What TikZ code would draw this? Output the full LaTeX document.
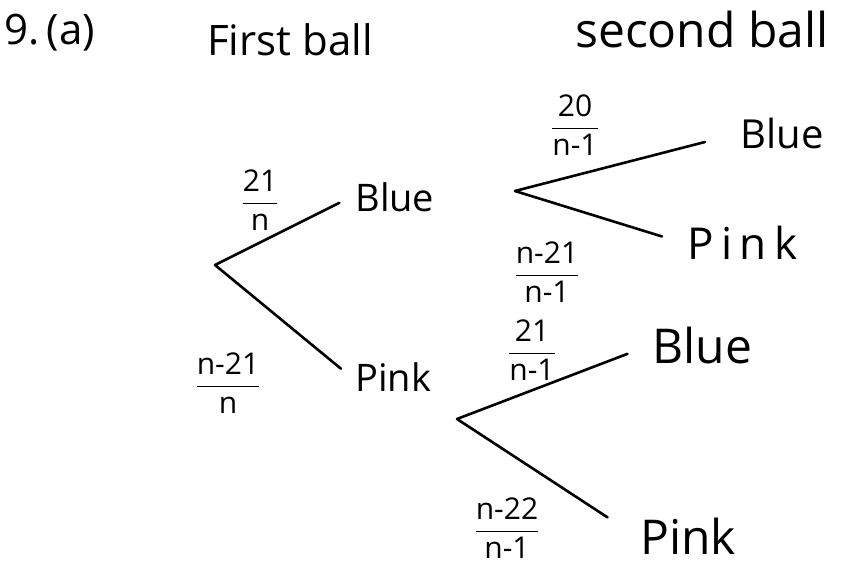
\documentclass[tikz,border=0pt]{standalone}
\usepackage{amsmath}
\usepackage{fontspec}
\setmainfont{Open Sans}
\newcommand{\prob}[2]{$\dfrac{\mbox{#1}}{\mbox{#2}}$}
\begin{document}
\begin{tikzpicture}[x=0.5pt,y=-0.5pt,
        branch/.style={line width=1.3pt,line cap=round},
        head/.style={font=\fontsize{21}{24}\selectfont},
        lbl/.style={anchor=west,inner sep=2pt,font=\fontsize{19}{22}\selectfont},
        biglbl/.style={lbl,font=\fontsize{24}{27}\selectfont},
        frac/.style={inner sep=0pt,font=\fontsize{15}{17}\selectfont}]
        \useasboundingbox (0,0) rectangle (846,565);
        % lecter
        \node[head] (qno) at (50,33) {9.\,(a)};
        \node[head] (first) at (290,40) {First ball};
        \node[head,font=\fontsize{24}{27}\selectfont] (second) at (702,30) {second ball};
        
        \coordinate (r1) at (215,265);
        \coordinate (r2) at (515,191);
        \coordinate (r3) at (457,419);
        
        \node[lbl] (b1) at (351,197) {Blue};
        \node[lbl] (p1) at (351,377) {Pink};
        \node[lbl,font=\fontsize{20}{23}\selectfont] (b2) at (736,134) {Blue};
        \node[lbl,font=\fontsize{22}{25}\selectfont] (p2) at (683,243) {P\,i\,n\,k};
        \node[biglbl] (b3) at (648,346) {Blue};
        \node[biglbl] (p3) at (636,536) {Pink};
        
        \node[frac] (f1) at (260,200) {\prob{21}{n}};
        \node[frac] (f2) at (228,383) {\prob{n-21}{n}};
        \node[frac] (f3) at (575,125) {\prob{20}{n-1}};
        \node[frac] (f4) at (547,272) {\prob{n-21}{n-1}};
        \node[frac] (f5) at (532,350) {\prob{21}{n-1}};
        \node[frac] (f6) at (507,528) {\prob{n-22}{n-1}};
        
        % line
        \draw[branch,shorten >=6.5pt] (r1) -- (b1.west);
        \draw[branch,shorten >=6.5pt] (r1) -- (p1.west);
        \draw[branch,shorten >=16pt] (r2) -- (b2.west);
        \draw[branch,shorten >=11pt] (r2) -- (p2.west);
        \draw[branch,shorten >=11pt] (r3) -- (b3.west);
        \draw[branch,shorten >=17pt] (r3) -- (p3.west);
    \end{tikzpicture}
\end{document}
